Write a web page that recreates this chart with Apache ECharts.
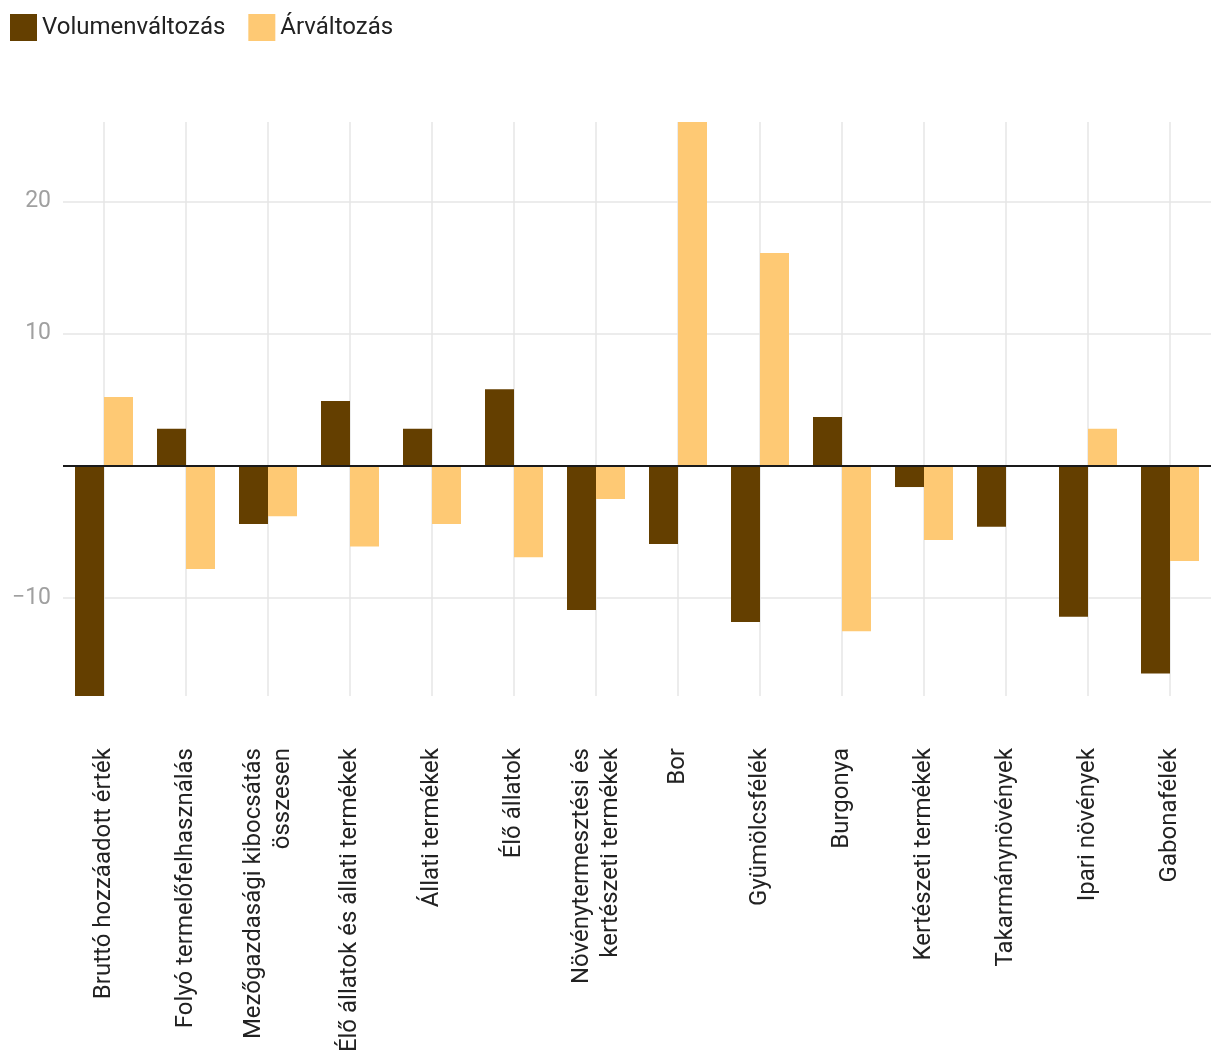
<!DOCTYPE html>
<html>
<head>
<meta charset="utf-8">
<script src="https://cdn.jsdelivr.net/npm/echarts@6/dist/echarts.min.js"></script>
<style>
html,body{margin:0;padding:0;background:#fff;}
#chart{width:1220px;height:1064px;}
</style>
</head>
<body>
<div id="chart"></div>
<script>
const categories = [
  'Bruttó hozzáadott érték',
  'Folyó termelőfelhasználás',
  'Mezőgazdasági kibocsátás\nösszesen',
  'Élő állatok és állati termékek',
  'Állati termékek',
  'Élő állatok',
  'Növénytermesztési és\nkertészeti termékek',
  'Bor',
  'Gyümölcsfélék',
  'Burgonya',
  'Kertészeti termékek',
  'Takarmánynövények',
  'Ipari növények',
  'Gabonafélék'
];
const volumeChange = [-17.4, 2.8, -4.4, 4.9, 2.8, 5.8, -10.9, -5.9, -11.8, 3.7, -1.6, -4.6, -11.4, -15.7];
const priceChange = [5.2, -7.8, -3.8, -6.1, -4.4, -6.9, -2.5, 26, 16.1, -12.5, -5.6, null, 2.8, -7.2];
const seriesNames = ['Volumenváltozás', 'Árváltozás'];
const yMin = -17.4;
const yMax = 26;

const chart = echarts.init(document.getElementById('chart'));
const font = 'Roboto';
chart.setOption({
  animation: false,
  backgroundColor: '#fff',
  textStyle: { fontFamily: font },
  legend: {
    left: 5, top: 9,
    itemWidth: 27, itemHeight: 27, itemGap: 23,
    icon: 'rect',
    textStyle: { fontSize: 24, color: '#222', fontFamily: font },
    data: seriesNames
  },
  grid: { left: 63, right: 9, top: 122, bottom: 368, containLabel: false },
  xAxis: {
    type: 'category',
    data: categories,
    axisLine: { show: false, onZero: false },
    axisTick: { show: false, alignWithLabel: true },
    splitLine: { show: true, alignWithLabel: true, lineStyle: { color: '#e6e6e6', width: 1.5 } },
    axisLabel: {
      rotate: 90, interval: 0, margin: 52,
      fontSize: 24, color: '#222', fontFamily: font, lineHeight: 29
    }
  },
  yAxis: {
    type: 'value',
    min: yMin, max: yMax,
    axisLine: { show: false },
    axisTick: { show: false },
    splitLine: { show: true, showMinLine: false, showMaxLine: false, lineStyle: { color: '#e6e6e6', width: 1.5 } },
    axisLabel: {
      showMinLabel: false, showMaxLabel: false,
      margin: 12, fontSize: 23, color: '#a0a0a0', fontFamily: font,
      formatter: function (v) {
        if (v === 0 || Math.abs(v % 10) > 1e-9) return '';
        return String(v).replace('-', '\u2212');
      }
    }
  },
  series: [
    {
      name: seriesNames[0], type: 'bar', data: volumeChange,
      barWidth: 29, barGap: '0%',
      itemStyle: { color: '#643f00' },
      markLine: {
        silent: true, symbol: 'none',
        label: { show: false },
        lineStyle: { color: '#1a1a1a', width: 2, type: 'solid' },
        data: [{ yAxis: 0 }]
      }
    },
    {
      name: seriesNames[1], type: 'bar', data: priceChange,
      barWidth: 29, barGap: '0%',
      itemStyle: { color: '#fec974' }
    }
  ]
});
</script>
</body>
</html>
